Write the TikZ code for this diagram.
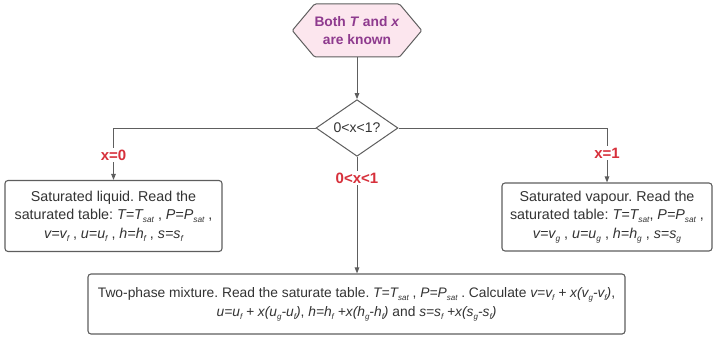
\documentclass[tikz,border=0pt]{standalone}
\usepackage{fontspec}
\usepackage{graphicx}
\setmainfont{Liberation Sans}
\frenchspacing
\usetikzlibrary{shapes.geometric,shapes.symbols,arrows.meta}
\definecolor{edgec}{HTML}{5E5E5E}
\definecolor{txtc}{HTML}{333333}
\definecolor{purpc}{HTML}{8E3A8E}
\definecolor{pinkc}{HTML}{FCE6EE}
\definecolor{labc}{HTML}{D7303B}
\newcommand{\sbs}[1]{\raisebox{-0.4ex}{\scalebox{0.58}{#1}}}
\begin{document}
\begin{tikzpicture}[x=1pt,y=-1pt,
 box/.style={draw=edgec, line width=1.1pt, rounded corners=3pt, fill=white, text=txtc, align=center, inner sep=0pt},
 sidefont/.style={font=\fontsize{14.3}{18.5}\selectfont},
 conn/.style={draw=edgec, line width=1pt},
 arr/.style={conn, -{Triangle[length=6pt,width=4.5pt]}},
 lbl/.style={fill=white, text=labc, font=\bfseries\fontsize{15}{17}\selectfont, inner sep=2pt}]
\useasboundingbox (0,0) rectangle (714,337);
\node[shape=signal, signal to=west and east, signal pointer angle=100, draw=edgec, fill=pinkc, line width=1pt, rounded corners=1.5pt, minimum width=121pt, minimum height=53pt, text=purpc, font=\bfseries\fontsize{13.8}{18.5}\selectfont, align=center, inner sep=0pt] (start) at (357,30.5) {Both \textit{T} and \textit{x}\\are known};
\node[diamond, draw=edgec, line width=1pt, minimum width=82pt, minimum height=41pt, inner sep=0pt, fill=white, text=txtc, font=\fontsize{14}{16}\selectfont] (dec) at (357,128) {0<x<1?};
\node[box, sidefont, minimum width=217pt, minimum height=71pt] (liq) at (113.5,216) {Saturated liquid. Read the\\saturated table: \textit{T=T\sbs{sat}} , \textit{P=P\sbs{sat}} ,\\\textit{v=v\sbs{f}} , \textit{u=u\sbs{f}} , \textit{h=h\sbs{f}} , \textit{s=s\sbs{f}}};
\node[box, sidefont, minimum width=210pt, minimum height=68pt] (vap) at (607,217) {Saturated vapour. Read the\\saturated table: \textit{T=T\sbs{sat}}, \textit{P=P\sbs{sat}} ,\\\textit{v=v\sbs{g}} , \textit{u=u\sbs{g}} , \textit{h=h\sbs{g}} , \textit{s=s\sbs{g}}};
\node[box, font=\fontsize{13.8}{19}\selectfont, minimum width=537pt, minimum height=60pt] (mix) at (356.5,304) {Two-phase mixture. Read the saturate table. \textit{T=T\sbs{sat}} , \textit{P=P\sbs{sat}} . Calculate \textit{v=v\sbs{f} + x(v\sbs{g}-v\sbs{f})},\\\textit{u=u\sbs{f} + x(u\sbs{g}-u\sbs{f})}, \textit{h=h\sbs{f} +x(h\sbs{g}-h\sbs{f})} and \textit{s=s\sbs{f} +x(s\sbs{g}-s\sbs{f})}};
\draw[arr] (start.south) -- (dec.north);
\draw[arr] (dec.west) -| (liq.north);
\draw[arr] (dec.east) -| (vap.north);
\draw[arr] (dec.south) -- (dec.south |- mix.north);
\node[lbl] (l0) at (liq.north |- 0,155) {x=0};
\node[lbl] (l1) at (vap.north |- 0,153) {x=1};
\node[lbl] (lm) at (dec.south |- 0,178) {0<x<1};
\end{tikzpicture}
\end{document}
